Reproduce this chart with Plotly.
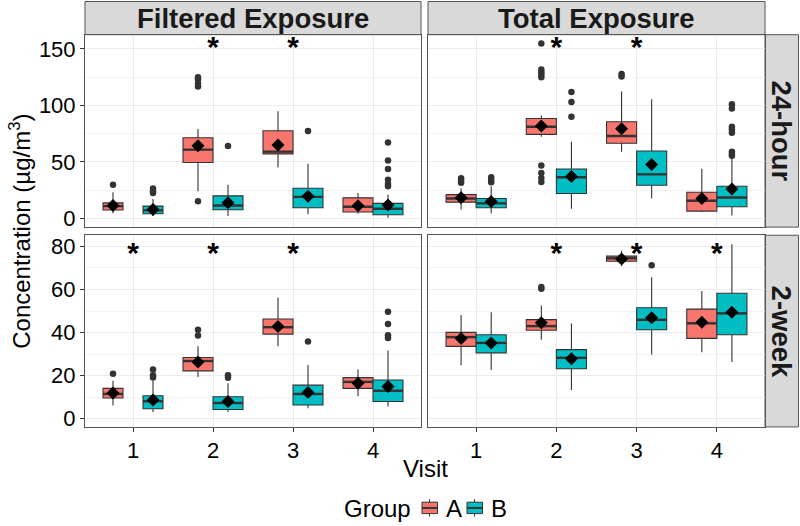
import plotly.graph_objects as go

# ---------------- data ----------------
visits = [1, 2, 3, 4]
groups = ["A", "B"]

# Filtered exposure, 24-hour
f24_A_lo = [4.4, 24.0, 45.0, 4.1]
f24_A_q1 = [7.3, 49.4, 57.0, 5.6]
f24_A_med = [10.8, 60.8, 59.0, 10.2]
f24_A_q3 = [13.7, 71.3, 77.5, 18.1]
f24_A_hi = [23.0, 79.0, 94.7, 22.5]
f24_A_mean = [11.4, 64.3, 64.9, 11.1]
f24_A_out_v = [1, 2, 2, 2, 2, 2]
f24_A_out_y = [29.8, 124.9, 122.8, 119.0, 116.7, 15.2]

f24_B_lo = [2.0, 2.0, 3.5, 0.6]
f24_B_q1 = [4.1, 7.6, 9.4, 3.2]
f24_B_med = [7.0, 11.4, 19.0, 8.5]
f24_B_q3 = [10.8, 19.9, 26.6, 13.2]
f24_B_hi = [17.0, 29.8, 48.2, 21.0]
f24_B_mean = [7.9, 13.7, 19.6, 11.7]
f24_B_out_v = [1, 1, 1, 2, 3, 4, 4, 4, 4, 4, 4]
f24_B_out_y = [26.3, 24.0, 22.5, 64.0, 77.2, 67.0, 51.2, 43.6, 34.2, 30.4, 28.4]

# Total exposure, 24-hour
t24_A_lo = [7.9, 72.2, 59.0, 5.6]
t24_A_q1 = [14.3, 74.3, 66.4, 6.4]
t24_A_med = [17.5, 81.0, 72.8, 15.5]
t24_A_q3 = [21.0, 88.3, 85.4, 23.1]
t24_A_hi = [26.3, 90.9, 112.3, 43.9]
t24_A_mean = [18.1, 81.6, 79.2, 17.5]
t24_A_out_v = [1, 1, 1, 2, 2, 2, 2, 2, 2, 2, 2, 2, 3, 3]
t24_A_out_y = [35.5, 33.5, 31.5, 154.7, 131.6, 129.3, 127.0, 124.9,
               46.8, 40.1, 35.7, 32.2, 127.8, 125.4]

t24_B_lo = [4.4, 8.5, 17.5, 2.6]
t24_B_q1 = [9.4, 21.9, 29.2, 10.2]
t24_B_med = [13.2, 36.3, 38.9, 18.4]
t24_B_q3 = [17.5, 43.6, 59.6, 28.4]
t24_B_hi = [28.4, 67.8, 105.3, 54.7]
t24_B_mean = [14.9, 37.1, 47.7, 26.0]
t24_B_out_v = [1, 1, 1, 2, 2, 2, 4, 4, 4, 4, 4, 4, 4, 4]
t24_B_out_y = [36.3, 34.0, 31.9, 111.7, 102.9, 89.8,
               100.9, 97.1, 81.0, 78.5, 75.7, 59.0, 57.0, 55.3]

# Filtered exposure, 2-week
f2w_A_lo = [6.1, 19.4, 33.6, 10.4]
f2w_A_q1 = [9.6, 22.2, 39.3, 14.1]
f2w_A_med = [11.5, 26.8, 42.5, 17.1]
f2w_A_q3 = [14.1, 28.4, 46.3, 19.1]
f2w_A_hi = [17.6, 33.6, 56.3, 22.9]
f2w_A_mean = [11.9, 26.3, 42.8, 16.5]
f2w_A_out_v = [1, 2, 2]
f2w_A_out_y = [20.9, 41.3, 38.7]

f2w_B_lo = [3.1, 3.1, 4.9, 5.7]
f2w_B_q1 = [4.6, 4.3, 6.4, 8.0]
f2w_B_med = [8.1, 7.3, 11.5, 13.0]
f2w_B_q3 = [10.7, 10.2, 15.6, 18.0]
f2w_B_hi = [17.6, 16.5, 24.9, 31.7]
f2w_B_mean = [8.7, 8.0, 12.2, 15.0]
f2w_B_out_v = [1, 1, 1, 2, 2, 3, 4, 4, 4, 4]
f2w_B_out_y = [22.9, 20.2, 19.1, 20.2, 19.0, 35.9, 49.7, 44.0, 38.8, 37.5]

# Total exposure, 2-week
t2w_A_lo = [24.8, 36.7, 70.9, 30.9]
t2w_A_q1 = [33.6, 41.1, 73.1, 37.3]
t2w_A_med = [37.9, 43.0, 74.5, 44.3]
t2w_A_q3 = [40.1, 46.0, 75.5, 50.9]
t2w_A_hi = [48.2, 52.6, 78.0, 59.3]
t2w_A_mean = [37.2, 44.6, 74.2, 44.8]
t2w_A_out_v = [2, 2]
t2w_A_out_y = [60.4, 61.2]

t2w_B_lo = [22.6, 13.3, 29.8, 26.3]
t2w_B_q1 = [30.6, 23.2, 41.3, 39.0]
t2w_B_med = [35.2, 28.3, 45.9, 48.9]
t2w_B_q3 = [39.0, 32.1, 51.5, 58.3]
t2w_B_hi = [49.4, 44.2, 65.7, 81.0]
t2w_B_mean = [35.2, 27.8, 46.9, 49.4]
t2w_B_out_v = [3]
t2w_B_out_y = [71.3]

# significant visits (asterisks)
f24_sig = [2, 3]
t24_sig = [2, 3]
f2w_sig = [1, 2, 3]
t2w_sig = [2, 3, 4]

col_labels = ["Filtered Exposure", "Total Exposure"]
row_labels = ["24-hour", "2-week"]
y_title = "Concentration (µg/m<sup>3</sup>)"
x_title = "Visit"
legend_title = "Group"

# ---------------- styling ----------------
FONT = "Liberation Sans, Arial, sans-serif"
COLORS = {"A": "#F8766D", "B": "#00BFC4"}
DARK = "#333333"
BORDER = "#555555"

W, H = 800, 526
def px_x(p): return p / W
def px_y(p): return 1 - p / H

col_dom = [[px_x(85), px_x(421)], [px_x(428), px_x(765)]]
row_dom = [[px_y(228.3), px_y(34)], [px_y(430), px_y(236.5)]]
row_ranges = [[-7.8, 162.5], [-3.8, 85.2]]
row_ticks = [[0, 50, 100, 150], [0, 20, 40, 60, 80]]
row_minor = [(25, 50), (10, 20)]
star_y = [149.3, 75.9]

panels = [(0, 0, "f24"), (0, 1, "t24"), (1, 0, "f2w"), (1, 1, "t2w")]
g = globals()

fig = go.Figure()

for idx, (r, c, pre) in enumerate(panels):
    ax = "" if idx == 0 else str(idx + 1)
    xref, yref = "x" + ax, "y" + ax
    for gi, grp in enumerate(groups):
        lo = g[f"{pre}_{grp}_lo"]; q1 = g[f"{pre}_{grp}_q1"]
        med = g[f"{pre}_{grp}_med"]; q3 = g[f"{pre}_{grp}_q3"]
        hi = g[f"{pre}_{grp}_hi"]; mean = g[f"{pre}_{grp}_mean"]
        sign = -1 if gi == 0 else 1
        pos_list = []
        for vi, v in enumerate(visits):
            # dodge layout: in the Filtered column visit 1 is dodged in 3 slots
            if c == 0 and v == 1:
                off, wid = 0.25, 0.25
            else:
                off, wid = 0.1875, 0.375
            pos = v + sign * off
            pos_list.append(pos)
            fig.add_trace(go.Box(
                x=[pos], q1=[q1[vi]], median=[med[vi]], q3=[q3[vi]],
                lowerfence=[lo[vi]], upperfence=[hi[vi]],
                width=wid, whiskerwidth=0, boxpoints=False,
                fillcolor=COLORS[grp], line=dict(color=DARK, width=1.1),
                name=grp, showlegend=False,
                xaxis=xref, yaxis=yref, hoverinfo="skip"))
            # thicker median line (ggplot style)
            fig.add_trace(go.Scatter(
                x=[pos - wid / 2, pos + wid / 2], y=[med[vi], med[vi]],
                mode="lines", line=dict(color=DARK, width=2.4),
                showlegend=False, xaxis=xref, yaxis=yref, hoverinfo="skip"))
        # outliers
        ov = g[f"{pre}_{grp}_out_v"]; oy = g[f"{pre}_{grp}_out_y"]
        ox = [v + sign * (0.25 if (c == 0 and v == 1) else 0.1875) for v in ov]
        fig.add_trace(go.Scatter(
            x=ox, y=oy, mode="markers",
            marker=dict(color=DARK, size=6.5),
            showlegend=False, xaxis=xref, yaxis=yref, hoverinfo="skip"))
        # means
        fig.add_trace(go.Scatter(
            x=pos_list, y=mean, mode="markers",
            marker=dict(color="black", symbol="diamond", size=10),
            showlegend=False, xaxis=xref, yaxis=yref, hoverinfo="skip"))
    # asterisks
    sig = g[f"{pre}_sig"]
    fig.add_trace(go.Scatter(
        x=sig, y=[star_y[r]] * len(sig), mode="text", text=["*"] * len(sig),
        textposition="middle center",
        textfont=dict(family=FONT, size=30, color="black", weight="bold"),
        showlegend=False, xaxis=xref, yaxis=yref, hoverinfo="skip"))

    xa = dict(domain=col_dom[c], range=[0.4, 4.6], tickvals=visits,
              ticktext=[str(v) for v in visits],
              showticklabels=(r == 1), ticks="outside" if r == 1 else "",
              ticklen=4, tickcolor=DARK, tickwidth=1,
              showgrid=True, gridcolor="#EBEBEB", gridwidth=1,
              zeroline=False, showline=True, mirror=True,
              linecolor=BORDER, linewidth=1,
              tickfont=dict(family=FONT, size=22, color="black"),
              anchor=yref)
    ya = dict(domain=row_dom[r], range=row_ranges[r], tickvals=row_ticks[r],
              showticklabels=(c == 0), ticks="outside" if c == 0 else "",
              ticklen=4, tickcolor=DARK, tickwidth=1,
              showgrid=True, gridcolor="#EBEBEB", gridwidth=1,
              minor=dict(tick0=row_minor[r][0], dtick=row_minor[r][1],
                         showgrid=True, gridcolor="#F3F3F3", gridwidth=0.6),
              zeroline=False, showline=True, mirror=True,
              linecolor=BORDER, linewidth=1,
              tickfont=dict(family=FONT, size=22, color="black"),
              anchor=xref)
    fig.layout["xaxis" + ax] = xa
    fig.layout["yaxis" + ax] = ya

shapes = []
annotations = []
# top strips
for c in range(2):
    shapes.append(dict(type="rect", xref="paper", yref="paper",
                       x0=col_dom[c][0], x1=col_dom[c][1],
                       y0=px_y(34), y1=px_y(0.5),
                       fillcolor="#D9D9D9", line=dict(color=BORDER, width=1),
                       layer="below"))
    annotations.append(dict(xref="paper", yref="paper",
                            x=(col_dom[c][0] + col_dom[c][1]) / 2, y=px_y(17.5),
                            text="<b>" + col_labels[c] + "</b>", showarrow=False,
                            xanchor="center", yanchor="middle",
                            font=dict(family=FONT, size=27.5, color="#1a1a1a")))
# right strips
for r in range(2):
    shapes.append(dict(type="rect", xref="paper", yref="paper",
                       x0=px_x(765), x1=px_x(798.5),
                       y0=row_dom[r][0], y1=row_dom[r][1],
                       fillcolor="#D9D9D9", line=dict(color=BORDER, width=1),
                       layer="below"))
    annotations.append(dict(xref="paper", yref="paper",
                            x=px_x(781.5), y=(row_dom[r][0] + row_dom[r][1]) / 2,
                            text="<b>" + row_labels[r] + "</b>", showarrow=False,
                            textangle=90, xanchor="center", yanchor="middle",
                            font=dict(family=FONT, size=27.5, color="#1a1a1a")))
# axis titles
annotations.append(dict(xref="paper", yref="paper", x=px_x(20), y=px_y(233),
                        text=y_title, showarrow=False, textangle=-90,
                        xanchor="center", yanchor="middle",
                        font=dict(family=FONT, size=24, color="black")))
annotations.append(dict(xref="paper", yref="paper", x=px_x(425.5), y=px_y(472),
                        text=x_title, showarrow=False,
                        xanchor="center", yanchor="middle",
                        font=dict(family=FONT, size=24, color="black")))

# legend (ggplot style, bottom): title + boxplot keys
annotations.append(dict(xref="paper", yref="paper", x=px_x(413), y=px_y(512),
                        text=legend_title, showarrow=False,
                        xanchor="right", yanchor="middle",
                        font=dict(family=FONT, size=24, color="black")))
key_left = {"A": 422, "B": 467}
for grp in groups:
    kx = key_left[grp]
    shapes.append(dict(type="line", xref="paper", yref="paper",
                       x0=px_x(kx + 7.5), x1=px_x(kx + 7.5),
                       y0=px_y(503), y1=px_y(520.5),
                       line=dict(color=DARK, width=1)))
    shapes.append(dict(type="rect", xref="paper", yref="paper",
                       x0=px_x(kx), x1=px_x(kx + 15.5),
                       y0=px_y(517.5), y1=px_y(506),
                       fillcolor=COLORS[grp], line=dict(color=DARK, width=1)))
    shapes.append(dict(type="line", xref="paper", yref="paper",
                       x0=px_x(kx), x1=px_x(kx + 15.5),
                       y0=px_y(511.8), y1=px_y(511.8),
                       line=dict(color=DARK, width=2)))
    annotations.append(dict(xref="paper", yref="paper", x=px_x(kx + 22),
                            y=px_y(512), text=grp, showarrow=False,
                            xanchor="left", yanchor="middle",
                            font=dict(family=FONT, size=24, color="black")))

fig.update_layout(
    width=W, height=H, margin=dict(l=0, r=0, t=0, b=0),
    paper_bgcolor="white", plot_bgcolor="white",
    boxmode="overlay",
    shapes=shapes, annotations=annotations,
    showlegend=False,
    font=dict(family=FONT),
)

fig.write_html("out.html",
               config={"displayModeBar": False},
               post_script="document.body.style.margin='0';"
                           "document.body.style.overflow='hidden';")
